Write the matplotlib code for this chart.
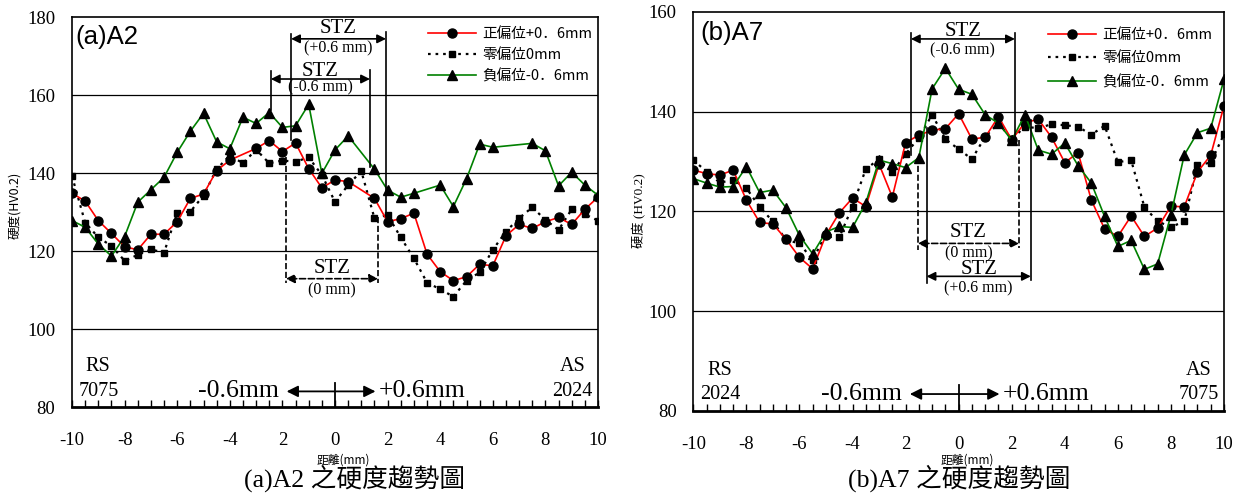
import numpy as np
import matplotlib.pyplot as plt
from matplotlib.font_manager import FontProperties

serif = ['Liberation Serif', 'Noto Sans CJK TC']
cjk = ['Noto Sans CJK TC', 'DejaVu Sans']
cjk_jp = ['Noto Sans CJK JP', 'DejaVu Sans']

# (a) A2 -- hardness, HV0.2
a2_x_pos = [-10, -9.5, -9, -8.5, -8, -7.5, -7, -6.5, -6, -5.5, -5, -4.5, -4, -3, -2.5, -2, -1.5, -1,
            -0.5, 0, 0.5, 1.5, 2, 2.5, 3, 3.5, 4, 4.5, 5, 5.5, 6, 6.5, 7, 7.5, 8, 8.5, 9, 9.5, 10]
a2_pos = [134.8, 132.8, 127.8, 124.5, 121.1, 120.3, 124.3, 124.3, 127.5, 133.5, 134.6, 140.6, 143.3,
          146.3, 148.3, 145.5, 147.7, 141.1, 136.2, 138.2, 137.8, 133.5, 127.5, 128.3, 129.7, 119.2,
          114.7, 112.4, 113.4, 116.6, 116.2, 123.9, 126.8, 125.8, 127.5, 128.6, 126.8, 130.7, 133.8]
a2_x_zero = [-10, -9.5, -9, -8.5, -8, -7.5, -7, -6.5, -6, -5.5, -5, -4.5, -4, -3.5, -3, -2.5, -2, -1.5,
             -1, -0.5, 0, 0.5, 1, 1.5, 2, 2.5, 3, 3.5, 4, 4.5, 5, 5.5, 6, 6.5, 7, 7.5, 8, 8.5, 9, 9.5, 10]
a2_zero = [139.2, 127.3, 123.5, 121.3, 117.5, 119.0, 120.4, 119.6, 129.8, 130.1, 134.2, 141.0, 144.5,
           142.5, 146.0, 142.5, 143.2, 142.9, 144.0, 139.5, 132.6, 136.9, 140.5, 128.4, 129.2, 123.5,
           118.1, 111.9, 110.2, 108.3, 112.4, 114.5, 120.3, 125.0, 128.4, 131.2, 128.0, 125.4, 130.7,
           129.4, 127.8]
a2_x_neg = [-10, -9.5, -9, -8.5, -8, -7.5, -7, -6.5, -6, -5.5, -5, -4.5, -4, -3.5, -3, -2.5, -2, -1.5,
            -1, -0.5, 0, 0.5, 1.5, 2, 2.5, 3, 4, 4.5, 5, 5.5, 6, 7.5, 8, 8.5, 9, 9.5, 10]
a2_neg = [127.8, 126.1, 121.8, 118.7, 123.7, 132.5, 135.7, 138.9, 145.3, 150.7, 155.3, 148.0, 146.2,
          154.3, 152.7, 155.5, 151.7, 152.1, 157.6, 139.9, 145.9, 149.5, 141.0, 135.6, 133.8, 134.8,
          136.9, 131.4, 138.5, 147.4, 146.6, 147.6, 145.7, 136.7, 140.2, 136.9, 134.3]

# (b) A7
a7_x = [-10, -9.5, -9, -8.5, -8, -7.5, -7, -6.5, -6, -5.5, -5, -4.5, -4, -3.5, -3, -2.5, -2, -1.5,
        -1, -0.5, 0, 0.5, 1, 1.5, 2, 2.5, 3, 3.5, 4, 4.5, 5, 5.5, 6, 6.5, 7, 7.5, 8, 8.5, 9, 9.5, 10]
a7_pos = [128.3, 127.6, 127.3, 128.3, 122.3, 117.8, 117.5, 114.4, 110.8, 108.5, 115.3, 119.7, 122.7,
          121.0, 129.5, 122.9, 133.8, 135.3, 136.3, 136.6, 139.6, 134.5, 134.9, 139.0, 134.4, 137.8,
          138.5, 134.9, 129.8, 131.8, 122.3, 116.5, 115.0, 119.1, 115.0, 116.7, 121.1, 120.9, 127.9,
          131.3, 141.2]
a7_zero = [130.3, 128.0, 125.8, 126.3, 124.7, 120.9, 118.0, 114.3, 113.6, 110.3, 115.5, 114.8, 121.0,
           128.5, 130.5, 127.9, 131.5, 134.8, 139.4, 134.5, 132.5, 130.5, 135.0, 137.7, 134.5, 137.0,
           136.7, 137.5, 137.3, 137.0, 135.4, 137.2, 129.9, 130.3, 120.9, 118.0, 116.9, 118.0, 129.3,
           129.8, 135.5]
a7_neg = [126.6, 125.7, 124.9, 125.0, 129.0, 123.8, 124.3, 120.7, 115.2, 111.5, 115.9, 117.0, 116.8,
          121.7, 130.3, 129.6, 128.8, 130.8, 144.6, 148.7, 144.5, 143.5, 139.4, 137.7, 134.3, 139.4,
          132.3, 131.5, 133.7, 129.2, 125.7, 119.0, 113.0, 114.2, 108.4, 109.5, 119.3, 131.3, 135.8,
          136.7, 146.5]

xtick_pos = [-10, -8, -6, -4, -2, 0, 2, 4, 6, 8, 10]
xtick_labels = ['-10', '-8', '-6', '-4', '2', '0', '2', '4', '6', '8', '10']
legend_labels = ['正偏位+0．6mm', '零偏位0mm', '負偏位-0．6mm']

fig = plt.figure(figsize=(12.34, 4.93), dpi=100)
ax1 = fig.add_axes([72 / 1234, 86 / 493, 526 / 1234, 390 / 493])
ax2 = fig.add_axes([693.3 / 1234, 82 / 493, 530.7 / 1234, 399 / 493])


def setup(ax, ylo, yhi):
    ax.set_xlim(-10, 10)
    ax.set_ylim(ylo, yhi)
    yt = list(range(ylo, yhi + 1, 20))
    for y in yt[1:-1]:
        ax.axhline(y, color='black', lw=0.9, zorder=1)
    ax.set_yticks(yt)
    ax.set_yticklabels([str(v) for v in yt], fontfamily=serif, fontsize=13.5)
    ax.tick_params(axis='y', length=0, pad=12)
    ax.set_xticks(xtick_pos)
    ax.set_xticklabels(xtick_labels, fontfamily=serif, fontsize=13.5)
    ax.set_xticks(np.arange(-10, 10.01, 0.5), minor=True)
    ax.tick_params(axis='x', which='both', direction='in', length=5, width=1, pad=18)
    for s in ['left', 'right', 'top']:
        ax.spines[s].set_linewidth(1.2)
    ax.spines['bottom'].set_linewidth(2)


def curves(ax, xp, yp, xz, yz, xn, yn):
    h1, = ax.plot(xp, yp, color='red', lw=1.2, marker='o', ms=6.5, mfc='black', mec='black', zorder=4)
    h2, = ax.plot(xz, yz, color='black', lw=1.6, ls=(0, (1.2, 2.2)), marker='s', ms=4.2, zorder=3)
    h3, = ax.plot(xn, yn, color='green', lw=1.2, marker='^', ms=7.5, mfc='black', mec='black', zorder=4)
    return [h1, h2, h3]


def span(ax, x1, x2, y, ls='-'):
    ax.annotate('', xy=(x1, y), xytext=(x2, y),
                arrowprops=dict(arrowstyle='<|-|>', color='black', lw=1.2, ls=ls,
                                mutation_scale=13, shrinkA=0, shrinkB=0))


def vline(ax, x, y1, y2, ls='-'):
    ax.plot([x, x], [y1, y2], color='black', lw=1.2, ls=ls, zorder=5)


def stz(ax, x1, x2, y, note, dy_up, dy_dn, ls='-'):
    span(ax, x1, x2, y, ls)
    xc = (x1 + x2) / 2
    ax.text(xc, y + dy_up, 'STZ', ha='center', va='center', fontfamily=serif, fontsize=15)
    ax.text(xc, y - dy_dn, note, ha='center', va='center', fontfamily=serif, fontsize=11.5)


def bottom(ax, yb, ys, left_mat, right_mat, ytop_bar):
    ax.text(-9.0, yb, left_mat, ha='center', va='center', fontfamily=serif, fontsize=14.5)
    ax.text(-9.0, ys, 'RS', ha='center', va='center', fontfamily=serif, fontsize=14.5)
    ax.text(9.03, yb, right_mat, ha='center', va='center', fontfamily=serif, fontsize=14.5)
    ax.text(9.03, ys, 'AS', ha='center', va='center', fontfamily=serif, fontsize=14.5)
    ax.text(-2.13, yb, '-0.6mm', ha='right', va='center', fontfamily=serif, fontsize=18.5)
    ax.text(1.68, yb, '+0.6mm', ha='left', va='center', fontfamily=serif, fontsize=18.5)
    ax.annotate('', xy=(-1.84, yb), xytext=(1.54, yb),
                arrowprops=dict(arrowstyle='<|-|>', color='black', lw=1.3,
                                mutation_scale=17, shrinkA=0, shrinkB=0))
    ax.plot([0, 0], [ax.get_ylim()[0], ytop_bar], color='black', lw=1.3)


# ---- panel (a) ----
setup(ax1, 80, 180)
hs = curves(ax1, a2_x_pos, a2_pos, a2_x_zero, a2_zero, a2_x_neg, a2_neg)
vline(ax1, -1.67, 175.6, 148.5)
vline(ax1, 1.94, 176.2, 128.8)
stz(ax1, -1.67, 1.94, 174.4, '(+0.6 mm)', 2.6, 2.5)
vline(ax1, -2.44, 166.2, 156.2)
vline(ax1, 1.33, 166.4, 141.6)
stz(ax1, -2.44, 1.33, 164.1, '(-0.6 mm)', 1.9, 2.2)
vline(ax1, -1.87, 144.2, 111.7, '--')
vline(ax1, 1.64, 128.7, 111.7, '--')
stz(ax1, -1.87, 1.64, 112.9, '(0 mm)', 2.6, 2.9, '--')
bottom(ax1, 84.0, 90.4, '7075', '2024', 86.2)
ax1.text(0.006, 0.949, '(a)A2', transform=ax1.transAxes, ha='left', va='center',
         fontfamily='Liberation Sans', fontsize=18.5)
ax1.legend(hs, legend_labels, frameon=False, loc='upper left', bbox_to_anchor=(0.676, 0.975),
           prop=FontProperties(family=cjk_jp, size=10.5), handlelength=3.3, handletextpad=0.45,
           labelspacing=0.5, borderpad=0, borderaxespad=0)

# ---- panel (b) ----
setup(ax2, 80, 160)
hs = curves(ax2, a7_x, a7_pos, a7_x, a7_zero, a7_x, a7_neg)
vline(ax2, -1.80, 155.7, 131.3)
vline(ax2, 2.12, 155.7, 134.3)
stz(ax2, -1.80, 2.12, 154.6, '(-0.6 mm)', 1.5, 2.2)
vline(ax2, -1.54, 131.0, 112.3, '--')
vline(ax2, 2.28, 134.3, 112.7, '--')
stz(ax2, -1.54, 2.28, 113.6, '(0 mm)', 2.1, 1.9, '--')
vline(ax2, -1.21, 136.8, 105.7)
vline(ax2, 2.72, 138.4, 106.3)
stz(ax2, -1.21, 2.72, 107.0, '(+0.6 mm)', 1.3, 2.5)
bottom(ax2, 83.4, 88.2, '2024', '7075', 85.3)
ax2.text(0.013, 0.947, '(b)A7', transform=ax2.transAxes, ha='left', va='center',
         fontfamily='Liberation Sans', fontsize=18.5)
ax2.legend(hs, legend_labels, frameon=False, loc='upper left', bbox_to_anchor=(0.668, 0.96),
           prop=FontProperties(family=cjk_jp, size=10.5), handlelength=3.3, handletextpad=0.45,
           labelspacing=0.65, borderpad=0, borderaxespad=0)

# axis titles and captions
fig.text(0.012, 0.584, '硬度(HV0.2)', rotation=90, ha='center', va='center', fontfamily=cjk, fontsize=9)
fig.text(0.518, 0.572, '硬度 (HV0.2)', rotation=90, ha='center', va='center', fontfamily=serif, fontsize=9.5)
fig.text(0.278, 0.066, '距離(mm)', ha='center', va='center', fontfamily=cjk, fontsize=8.5)
fig.text(0.784, 0.066, '距離(mm)', ha='center', va='center', fontfamily=cjk, fontsize=8.5)
fig.text(0.287, 0.029, '(a)A2 之硬度趨勢圖', ha='center', va='center', fontfamily=serif, fontsize=18.5)
fig.text(0.777, 0.029, '(b)A7 之硬度趨勢圖', ha='center', va='center', fontfamily=serif, fontsize=18.5)

fig.savefig('out.png', dpi=100, facecolor='white')
